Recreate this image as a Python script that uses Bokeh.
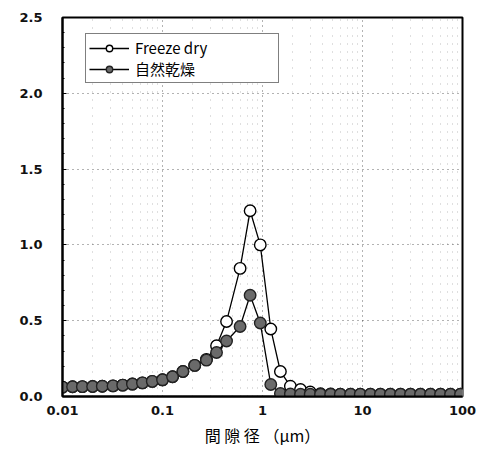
from bokeh.plotting import figure
from bokeh.models import Range1d, FixedTicker, Legend, LegendItem, NumeralTickFormatter
from bokeh.embed import file_html
from bokeh.resources import INLINE

# pore diameter (µm)
pore_fd = [0.01, 0.0126, 0.0158, 0.02, 0.025, 0.032, 0.04, 0.05, 0.063, 0.079, 0.1, 0.126,
           0.16, 0.21, 0.275, 0.347, 0.437, 0.597, 0.752, 0.95, 1.21, 1.51, 1.9, 2.4, 3.0,
           3.8, 4.8, 6.0, 7.6, 9.5, 12.0, 15.1, 19.0, 24.0, 30.2, 38.0, 47.9, 60.3, 75.9, 95.5]
freeze_dry = [0.062, 0.064, 0.065, 0.066, 0.068, 0.07, 0.075, 0.082, 0.09, 0.1, 0.11, 0.13,
              0.165, 0.205, 0.245, 0.335, 0.495, 0.845, 1.225, 1.0, 0.445, 0.165, 0.068, 0.046, 0.03,
              0.018, 0.016, 0.015, 0.015, 0.015, 0.015, 0.015, 0.015, 0.015, 0.015, 0.015, 0.015, 0.015, 0.015, 0.015]
pore_nd = pore_fd
natural_dry = [0.062, 0.064, 0.065, 0.066, 0.068, 0.07, 0.075, 0.082, 0.09, 0.1, 0.11, 0.13,
               0.165, 0.205, 0.24, 0.29, 0.366, 0.462, 0.668, 0.485, 0.079, 0.02, 0.016, 0.015, 0.015,
               0.015, 0.015, 0.015, 0.015, 0.015, 0.015, 0.015, 0.015, 0.015, 0.015, 0.015, 0.015, 0.015, 0.015, 0.015]

x_ticks = [0.01, 0.1, 1, 10, 100]
x_labels = ["0.01", "0.1", "1", "10", "100"]
y_ticks = [0.0, 0.5, 1.0, 1.5, 2.0, 2.5]
series_names = ["Freeze dry", "自然乾燥"]
x_title = "間 隙 径 （μm）"

p = figure(width=479, height=457, x_axis_type="log", output_backend="svg",
           toolbar_location=None, x_range=Range1d(0.01, 100), y_range=Range1d(0, 2.5),
           min_border_left=62, min_border_right=17, min_border_top=17, min_border_bottom=61)
p.background_fill_color = "white"
p.border_fill_color = "white"
p.outline_line_color = "black"
p.outline_line_width = 2

# axes
p.xaxis.ticker = FixedTicker(ticks=x_ticks)
p.xaxis.major_label_overrides = {t: l for t, l in zip(x_ticks, x_labels)}
p.yaxis.ticker = FixedTicker(ticks=y_ticks, minor_ticks=[i * 0.1 for i in range(26)])
p.yaxis.formatter = NumeralTickFormatter(format="0.0")
for ax in (p.xaxis[0], p.yaxis[0]):
    ax.axis_line_color = "black"
    ax.axis_line_width = 2
    ax.major_label_text_font = "DejaVu Sans"
    ax.major_label_text_font_size = "13px"
    ax.major_label_text_font_style = "bold"
    ax.major_label_text_color = "#111111"
p.xaxis.major_tick_in = 0
p.xaxis.major_tick_out = 0
p.xaxis.minor_tick_in = 0
p.xaxis.minor_tick_out = 0
p.xaxis.major_label_standoff = 9
p.yaxis.major_tick_in = 4
p.yaxis.major_tick_out = 0
p.yaxis.minor_tick_in = 2
p.yaxis.minor_tick_out = 0
p.yaxis.major_label_standoff = 20
p.xaxis.axis_label = x_title
p.xaxis.axis_label_text_font = "Noto Sans CJK JP"
p.xaxis.axis_label_text_font_size = "16px"
p.xaxis.axis_label_text_font_style = "normal"
p.xaxis.axis_label_text_color = "black"
p.xaxis.axis_label_standoff = 5

# grid
p.xgrid.grid_line_color = "black"
p.xgrid.grid_line_alpha = 0.6
p.xgrid.grid_line_dash = "1 4"
p.xgrid.minor_grid_line_color = "black"
p.xgrid.minor_grid_line_alpha = 0.25
p.xgrid.minor_grid_line_dash = "1 7"
p.xgrid.ticker = FixedTicker(ticks=x_ticks,
                             minor_ticks=[m * 10.0 ** e for e in range(-2, 2) for m in (2, 3, 4, 5, 6, 7, 8, 9)])
p.ygrid.grid_line_color = "black"
p.ygrid.grid_line_alpha = 0.6
p.ygrid.grid_line_dash = "1 4"

# series
l1 = p.line(pore_fd, freeze_dry, line_color="black", line_width=1.3)
s1 = p.scatter(pore_fd, freeze_dry, size=11.5, fill_color="white", line_color="black", line_width=1.4)
l2 = p.line(pore_nd, natural_dry, line_color="black", line_width=1.3)
s2 = p.scatter(pore_nd, natural_dry, size=11.5, fill_color="#6a6a6a", line_color="#222222", line_width=1.4)

legend = Legend(items=[LegendItem(label=series_names[0], renderers=[l1, s1]),
                       LegendItem(label=series_names[1], renderers=[l2, s2])],
                location=(23, 313))
legend.border_line_color = "black"
legend.border_line_width = 1.5
legend.background_fill_alpha = 1
legend.label_text_font = "Noto Sans CJK JP"
legend.label_text_font_size = "15px"
legend.label_text_color = "black"
legend.glyph_width = 40
legend.glyph_height = 16
legend.label_width = 140
legend.label_height = 16
legend.spacing = 0
legend.padding = 3
legend.margin = 0
legend.label_standoff = 6
p.add_layout(legend)

open("out.html", "w").write(file_html(p, INLINE))
